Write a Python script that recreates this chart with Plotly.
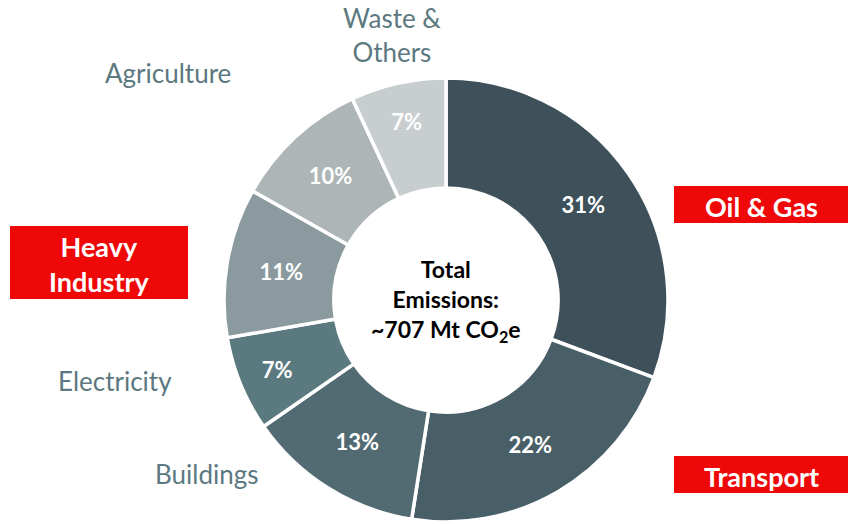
import plotly.graph_objects as go

sectors = ["Oil & Gas", "Transport", "Buildings", "Electricity", "Heavy Industry", "Agriculture", "Waste & Others"]
shares = [31, 22, 13, 7, 11, 10, 7]
colors = ["#3E5059", "#485F67", "#526B73", "#5A7A80", "#8A9A9E", "#ADB5B7", "#C8CDCF"]

W, H = 848, 524
cx, cy, R = 446, 300, 222

fig = go.Figure(go.Pie(
    labels=sectors,
    values=shares,
    text=[f"{v}%" for v in shares],
    textinfo="text",
    textposition="inside",
    insidetextorientation="horizontal",
    textfont=dict(family="Lato", size=22, color="white", weight="bold"),
    marker=dict(colors=colors, line=dict(color="white", width=3.5)),
    hole=0.505,
    sort=False,
    direction="clockwise",
    rotation=0,
    showlegend=False,
    domain=dict(x=[(cx - R) / W, (cx + R) / W], y=[(H - cy - R) / H, (H - cy + R) / H]),
))

label_color = "#5C7880"
font_family = "Lato"

def px(x):
    return x / W

def py(y):
    return 1 - y / H

annotations = [
    dict(x=px(cx), y=py(cy), text="<b>Total<br>Emissions:<br>~707 Mt CO<sub>2</sub>e</b>",
         font=dict(family=font_family, size=23, color="black"), showarrow=False,
         xanchor="center", yanchor="middle"),
    dict(x=px(392), y=py(35), text="Waste &<br>Others", font=dict(family=font_family, size=26, color=label_color),
         showarrow=False, xanchor="center", yanchor="middle"),
    dict(x=px(168), y=py(73), text="Agriculture", font=dict(family=font_family, size=26, color=label_color),
         showarrow=False, xanchor="center", yanchor="middle"),
    dict(x=px(115), y=py(381), text="Electricity", font=dict(family=font_family, size=26, color=label_color),
         showarrow=False, xanchor="center", yanchor="middle"),
    dict(x=px(207), y=py(474), text="Buildings", font=dict(family=font_family, size=26, color=label_color),
         showarrow=False, xanchor="center", yanchor="middle"),
    dict(x=px(761), y=py(206), text="<b>Oil & Gas</b>", font=dict(family=font_family, size=27, color="white"),
         showarrow=False, xanchor="center", yanchor="middle"),
    dict(x=px(761), y=py(476), text="<b>Transport</b>", font=dict(family=font_family, size=27, color="white"),
         showarrow=False, xanchor="center", yanchor="middle"),
    dict(x=px(99), y=py(264), text="<b>Heavy<br>Industry</b>", font=dict(family=font_family, size=27, color="white"),
         showarrow=False, xanchor="center", yanchor="middle"),
]

red = "#EE0808"
shapes = [
    dict(type="rect", xref="paper", yref="paper", x0=px(674), x1=px(848), y0=py(223), y1=py(186),
         fillcolor=red, line=dict(width=0), layer="below"),
    dict(type="rect", xref="paper", yref="paper", x0=px(674), x1=px(848), y0=py(493), y1=py(456),
         fillcolor=red, line=dict(width=0), layer="below"),
    dict(type="rect", xref="paper", yref="paper", x0=px(10), x1=px(188), y0=py(299), y1=py(226),
         fillcolor=red, line=dict(width=0), layer="below"),
]

fig.update_layout(
    width=W, height=H,
    margin=dict(l=0, r=0, t=0, b=0),
    paper_bgcolor="white", plot_bgcolor="white",
    annotations=annotations, shapes=shapes,
    font=dict(family=font_family),
)

fig.write_html("out.html", config={"displayModeBar": False},
               post_script="document.body.style.margin='0';document.body.style.padding='0';")
